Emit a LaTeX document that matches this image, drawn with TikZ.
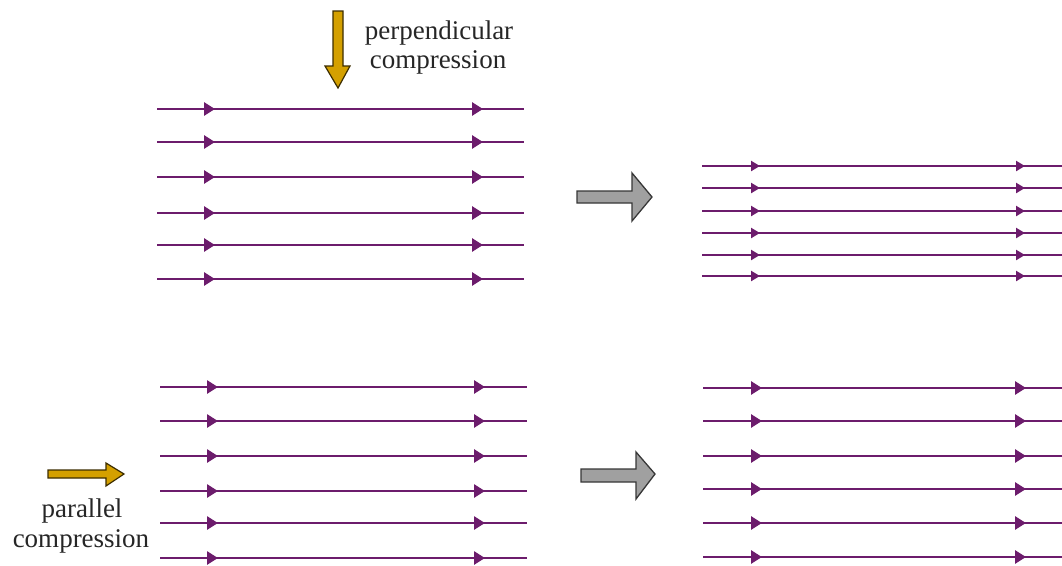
\documentclass[tikz,border=0pt]{standalone}
\usepackage{fontspec}
\setmainfont{Liberation Serif}
\usetikzlibrary{decorations.markings,arrows.meta}
\definecolor{fieldpurple}{RGB}{108,28,108}
\definecolor{pushgold}{RGB}{212,160,0}
\definecolor{pushedge}{RGB}{60,45,0}
\definecolor{stepgray}{RGB}{160,160,160}
\definecolor{stepedge}{RGB}{55,55,55}
\begin{document}
\begin{tikzpicture}[x=1pt,y=-1pt,
  fieldline/.style={draw=fieldpurple,line width=2.8pt},
  bigtips/.style 2 args={postaction={decorate,decoration={markings,
      mark=at position #1 with {\arrow{Triangle[length=11pt,width=13pt]}},
      mark=at position #2 with {\arrow{Triangle[length=11pt,width=13pt]}}}}},
  smalltips/.style 2 args={postaction={decorate,decoration={markings,
      mark=at position #1 with {\arrow{Triangle[length=9pt,width=10pt]}},
      mark=at position #2 with {\arrow{Triangle[length=9pt,width=10pt]}}}}},
  pushshape/.style={fill=pushgold,draw=pushedge,line width=1.2pt,line join=miter},
  stepshape/.style={fill=stepgray,draw=stepedge,line width=1.3pt,line join=miter},
  label/.style={font=\fontsize{27}{30}\selectfont,inner sep=0pt,text=black!85}]
\useasboundingbox (0,0) rectangle (1062,565);

% top-left field lines
\foreach \y [count=\i] in {109,142,177,213,245,279}{
  \coordinate (tlA\i) at (157,\y);
  \coordinate (tlB\i) at (524,\y);
  \draw[fieldline,bigtips={58pt}{326pt}] (tlA\i) -- (tlB\i);
}
% bottom-left field lines
\foreach \y [count=\i] in {387,421,456,491,523,558}{
  \coordinate (blA\i) at (160,\y);
  \coordinate (blB\i) at (527,\y);
  \draw[fieldline,bigtips={58pt}{325pt}] (blA\i) -- (blB\i);
}
% top-right field lines (compressed perpendicular)
\foreach \y [count=\i] in {166,188,211,233,255,276}{
  \coordinate (trA\i) at (702,\y);
  \coordinate (trB\i) at (1062,\y);
  \draw[fieldline,line width=2.5pt,smalltips={58pt}{323pt}] (trA\i) -- (trB\i);
}
% bottom-right field lines
\foreach \y [count=\i] in {388,421,456,489,523,557}{
  \coordinate (brA\i) at (703,\y);
  \coordinate (brB\i) at (1062,\y);
  \draw[fieldline,bigtips={59pt}{323pt}] (brA\i) -- (brB\i);
}

% gold push arrows
\draw[pushshape] (333,11) -- (343,11) -- (343,66) -- (350,66) -- (338,88)
  -- (325,66) -- (333,66) -- cycle;
\draw[pushshape] (48,470) -- (106,470) -- (106,463) -- (124,474) -- (106,486)
  -- (106,478) -- (48,478) -- cycle;

% gray step arrows
\draw[stepshape] (577,191) -- (632,191) -- (632,173) -- (652,197) -- (632,221)
  -- (632,203) -- (577,203) -- cycle;
\draw[stepshape] (581,469) -- (636,469) -- (636,452) -- (655,474) -- (636,499)
  -- (636,482) -- (581,482) -- cycle;

% labels
\node[label,anchor=base] (perp1) at (439,39) {perpendicular};
\node[label,anchor=base] (perp2) at (438,68) {compression};
\node[label,anchor=base] (par1) at (82,517) {parallel};
\node[label,anchor=base] (par2) at (81,547) {compression};
\end{tikzpicture}
\end{document}
